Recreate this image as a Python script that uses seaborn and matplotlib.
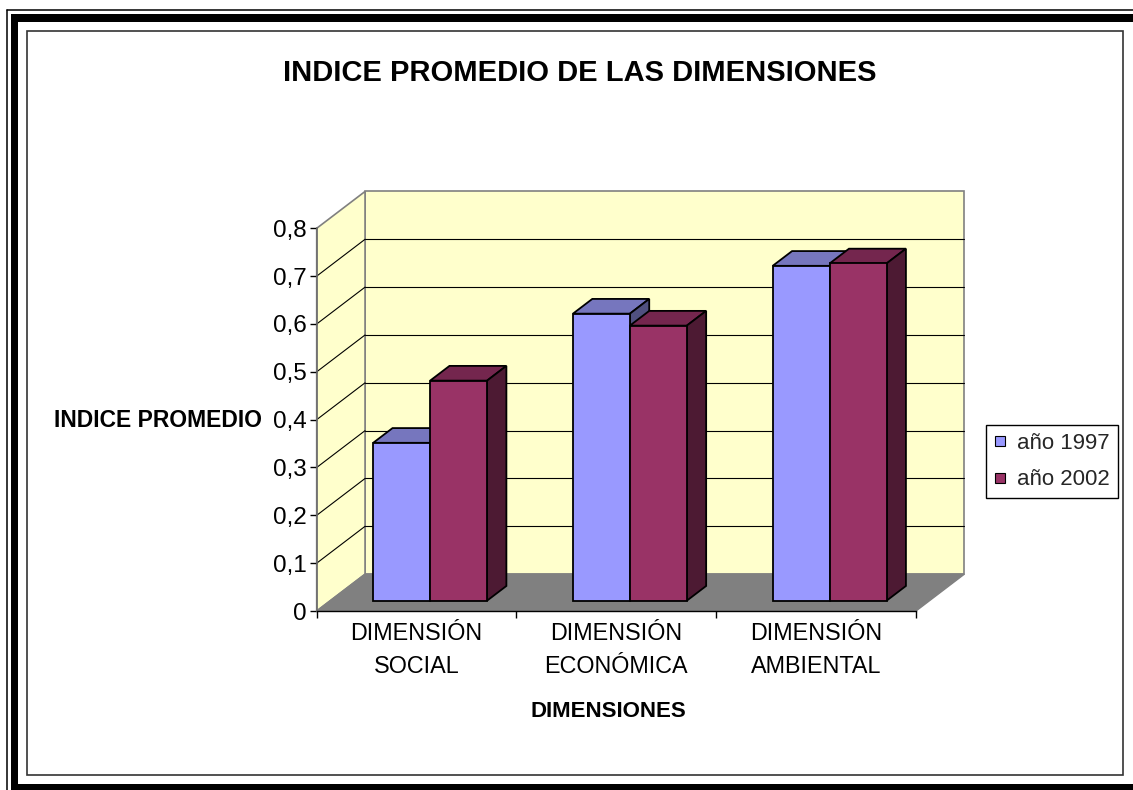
import matplotlib

matplotlib.use("Agg")
import matplotlib.pyplot as plt
import pandas as pd
import seaborn as sns
from matplotlib.lines import Line2D
from matplotlib.patches import Polygon, Rectangle
from matplotlib.transforms import Affine2D


categories = ["DIMENSIÓN\nSOCIAL", "DIMENSIÓN\nECONÓMICA", "DIMENSIÓN\nAMBIENTAL"]
series = ["año 1997", "año 2002"]
values_1997 = [0.33, 0.60, 0.70]
values_2002 = [0.46, 0.575, 0.705]
y_ticks = [0.0, 0.1, 0.2, 0.3, 0.4, 0.5, 0.6, 0.7, 0.8]
y_tick_labels = ["0", "0,1", "0,2", "0,3", "0,4", "0,5", "0,6", "0,7", "0,8"]

title = "INDICE PROMEDIO DE LAS DIMENSIONES"
x_title = "DIMENSIONES"
y_title = "INDICE PROMEDIO"

front_colors = {"año 1997": "#9999FF", "año 2002": "#993366"}
top_colors = {"año 1997": "#7676BE", "año 2002": "#74264E"}
side_colors = {"año 1997": "#505080", "año 2002": "#4D1A33"}

W, H = 1133, 790
WALL_DX, WALL_DY = 0.242, 0.077    # depth of the 3d box in data units
BAR_FRONT, BAR_DEPTH = 0.28, 0.40  # as fractions of the box depth


def main():
    sns.set_theme(style="white")
    plt.rcParams["font.family"] = ["Liberation Sans", "DejaVu Sans"]

    fig = plt.figure(figsize=(W / 100, H / 100), dpi=100)

    # page frame, drawn in pixel coordinates
    bg = fig.add_axes([0, 0, 1, 1], zorder=-5)
    bg.set_xlim(0, W)
    bg.set_ylim(H, 0)
    bg.axis("off")
    bg.plot([7, 7], [10, H], color="black", lw=1.1)
    bg.plot([7, W], [10, 10], color="black", lw=1.1)
    bg.add_patch(Rectangle((10.5, 14), 7, H - 14, color="black", lw=0))
    bg.add_patch(Rectangle((10.5, 14), W - 10.5, 7.7, color="black", lw=0))
    bg.add_patch(Rectangle((10.5, 783.5), W - 10.5, H - 783.5, color="black", lw=0))
    bg.add_patch(Rectangle((26.5, 30.7), 1123 - 26.5, 774.5 - 30.7,
                           facecolor="white", edgecolor="#333333", lw=1.2))

    ax = fig.add_axes([316.7 / W, 1 - 611 / H, 599.3 / W, 382.7 / H])
    ax.patch.set_visible(False)

    df = pd.DataFrame({
        "dimension": categories * 2,
        "serie": [s for s in series for _ in categories],
        "indice": values_1997 + values_2002,
    })
    sns.barplot(data=df, x="dimension", y="indice", hue="serie",
                order=categories, hue_order=series, palette=front_colors,
                saturation=1, width=0.57, gap=0, errorbar=None,
                edgecolor="black", linewidth=1.3, legend=False, ax=ax)

    # 3d look: shift front faces into the box and add tops and sides
    fx, fy = BAR_FRONT * WALL_DX, BAR_FRONT * WALL_DY
    bx, by = BAR_DEPTH * WALL_DX, BAR_DEPTH * WALL_DY
    shift = Affine2D().translate(fx, fy) + ax.transData
    faces = []
    for container, serie in zip(ax.containers, series):
        for bar in container:
            faces.append((bar, serie))
    faces.sort(key=lambda t: t[0].get_x())
    for i, (bar, serie) in enumerate(faces):
        left = bar.get_x() + fx
        right = left + bar.get_width()
        top = bar.get_height() + fy
        bar.set_transform(shift)
        bar.set_zorder(3 + 2 * i + 1)
        bar.set_clip_on(False)
        ax.add_patch(Polygon(
            [(left, top), (right, top), (right + bx, top + by), (left + bx, top + by)],
            facecolor=top_colors[serie], edgecolor="black", lw=1.3,
            joinstyle="miter", zorder=3 + 2 * i, clip_on=False))
        ax.add_patch(Polygon(
            [(right, fy), (right, top), (right + bx, top + by), (right + bx, fy + by)],
            facecolor=side_colors[serie], edgecolor="black", lw=1.3,
            joinstyle="miter", zorder=3 + 2 * i, clip_on=False))

    # walls and floor
    x0, x1 = -0.5, len(categories) - 0.5
    ytop = y_ticks[-1]
    ax.add_patch(Rectangle((x0 + WALL_DX, WALL_DY), x1 - x0, ytop,
                           facecolor="#FFFFCC", edgecolor="#808080", lw=1.2,
                           zorder=0.5, clip_on=False))
    ax.add_patch(Polygon([(x0, 0), (x0, ytop), (x0 + WALL_DX, ytop + WALL_DY),
                          (x0 + WALL_DX, WALL_DY)],
                         facecolor="#FFFFCC", edgecolor="#808080", lw=1.2,
                         zorder=0.5, clip_on=False))
    ax.add_patch(Polygon([(x0, 0), (x1, 0), (x1 + WALL_DX, WALL_DY),
                          (x0 + WALL_DX, WALL_DY)],
                         facecolor="#808080", edgecolor="#808080", lw=1.0,
                         zorder=0.7, clip_on=False))
    for v in y_ticks[1:-1]:
        ax.plot([x0 + WALL_DX, x1 + WALL_DX], [v + WALL_DY, v + WALL_DY],
                color="black", lw=0.8, zorder=0.6, clip_on=False)
        ax.plot([x0, x0 + WALL_DX], [v, v + WALL_DY],
                color="black", lw=0.8, zorder=0.6, clip_on=False)

    ax.set_xlim(x0, x1)
    ax.set_ylim(0, ytop)
    ax.set_yticks(y_ticks, y_tick_labels)
    ax.set_xticks([x0 + i for i in range(len(categories) + 1)],
                  [""] * (len(categories) + 1))
    ax.set_xticks(range(len(categories)), categories, minor=True,
                  linespacing=1.55)
    ax.tick_params(axis="x", which="major", bottom=True, length=5, width=1,
                   color="black", direction="out")
    ax.tick_params(axis="x", which="minor", bottom=True, length=0, pad=8,
                   labelsize=16.8, labelcolor="black")
    ax.tick_params(axis="y", left=True, length=5, width=1, color="black",
                   direction="out", pad=2.2, labelsize=17.5, labelcolor="black")

    for side in ["top", "right"]:
        ax.spines[side].set_visible(False)
    ax.spines["left"].set_color("#707070")
    ax.spines["left"].set_linewidth(1.2)
    ax.spines["bottom"].set_color("black")
    ax.spines["bottom"].set_linewidth(1.0)
    ax.spines["left"].set_zorder(2)
    ax.spines["bottom"].set_zorder(2)

    ax.set_xlabel(x_title, fontsize=16, fontweight="bold", color="black",
                  va="baseline")
    ax.xaxis.set_label_coords((608 - 316.7) / 599.3, (611 - 717) / 382.7)
    ax.set_ylabel(y_title, fontsize=16.5, fontweight="bold", color="black",
                  rotation=0, ha="right", va="center_baseline")
    ax.yaxis.set_label_coords((262 - 316.7) / 599.3, (611 - 418) / 382.7)

    fig.text(580 / W, 1 - 81 / H, title, ha="center", va="baseline",
             fontsize=21, fontweight="bold", color="black")

    handles = [
        Line2D([], [], marker="s", linestyle="none", markersize=7,
               markerfacecolor=front_colors[s], markeredgecolor="black",
               markeredgewidth=0.8)
        for s in series
    ]
    leg = fig.legend(handles, series, loc="center left",
                     bbox_to_anchor=(986 / W, 1 - 461.7 / H),
                     frameon=True, fancybox=False, edgecolor="black",
                     framealpha=1, fontsize=16, handlelength=0.6,
                     handletextpad=0.45, labelspacing=0.7, borderpad=0.35,
                     borderaxespad=0)
    leg.get_frame().set_linewidth(1.0)

    fig.savefig("out.png", dpi=100)
    plt.close(fig)


if __name__ == "__main__":
    main()
